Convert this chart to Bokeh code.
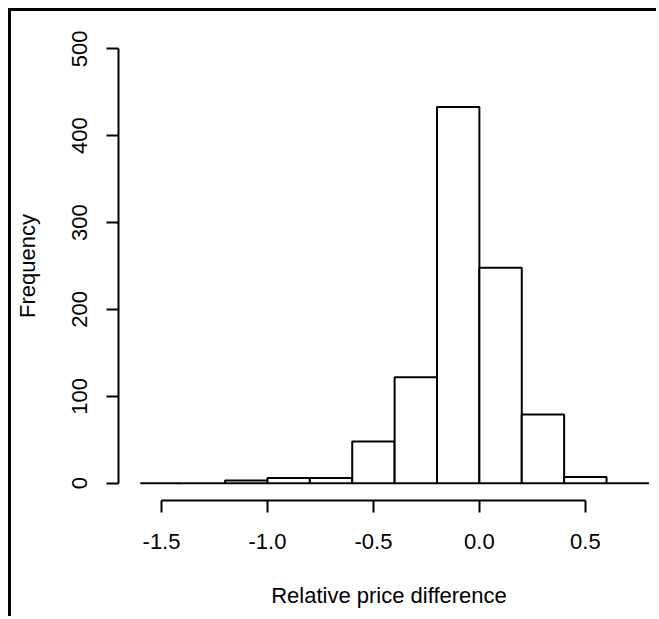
from bokeh.plotting import figure
from bokeh.models import Range1d, FixedTicker, ColumnDataSource
from bokeh.embed import file_html
from bokeh.resources import INLINE

# Histogram data (bin edges and counts)
bin_left = [-1.6, -1.4, -1.2, -1.0, -0.8, -0.6, -0.4, -0.2, 0.0, 0.2, 0.4, 0.6]
bin_right = [-1.4, -1.2, -1.0, -0.8, -0.6, -0.4, -0.2, 0.0, 0.2, 0.4, 0.6, 0.8]
counts = [0, 0, 3, 6, 6, 48, 122, 433, 248, 79, 7, 0]

x_ticks = [-1.5, -1.0, -0.5, 0.0, 0.5]
x_tick_labels = ["-1.5", "-1.0", "-0.5", "0.0", "0.5"]
y_ticks = [0, 100, 200, 300, 400, 500]

FONT = "Liberation Sans"

src = ColumnDataSource(dict(left=bin_left, right=bin_right, top=counts,
                            bottom=[0] * len(counts)))

p = figure(width=648, height=608, output_backend="svg", toolbar_location=None,
           x_range=Range1d(-1.703, 0.850), y_range=Range1d(-20, 520),
           min_border_left=106, min_border_top=20, min_border_bottom=119,
           min_border_right=0)
p.styles = {"border-left": "3px solid black", "border-top": "3px solid black",
            "margin-left": "8px", "margin-top": "8px"}

p.quad(left="left", right="right", top="top", bottom="bottom", source=src,
       fill_color="white", line_color="black", line_width=2)

p.xgrid.visible = False
p.ygrid.visible = False
p.outline_line_color = None
p.background_fill_color = "white"
p.border_fill_color = "white"

xa = p.xaxis[0]
xa.ticker = FixedTicker(ticks=x_ticks)
xa.major_label_overrides = {t: l for t, l in zip(x_ticks, x_tick_labels)}
xa.bounds = (-1.5, 0.5)
xa.axis_label = "Relative price difference"

ya = p.yaxis[0]
ya.ticker = FixedTicker(ticks=y_ticks)
ya.bounds = (0, 500)
ya.axis_label = "Frequency"
ya.major_label_orientation = "vertical"

for ax in (xa, ya):
    ax.axis_line_color = "black"
    ax.axis_line_width = 2
    ax.major_tick_line_color = "black"
    ax.major_tick_line_width = 2
    ax.major_tick_out = 12
    ax.major_tick_in = 0
    ax.minor_tick_line_color = None
    ax.major_label_text_font = FONT
    ax.major_label_text_font_size = "22px"
    ax.major_label_text_color = "black"
    ax.axis_label_text_font = FONT
    ax.axis_label_text_font_size = "22px"
    ax.axis_label_text_font_style = "normal"
    ax.axis_label_text_color = "black"

xa.major_label_standoff = 21
xa.axis_label_standoff = 31
ya.major_label_standoff = 19
ya.axis_label_standoff = 30

open("out.html", "w").write(file_html(p, INLINE))
